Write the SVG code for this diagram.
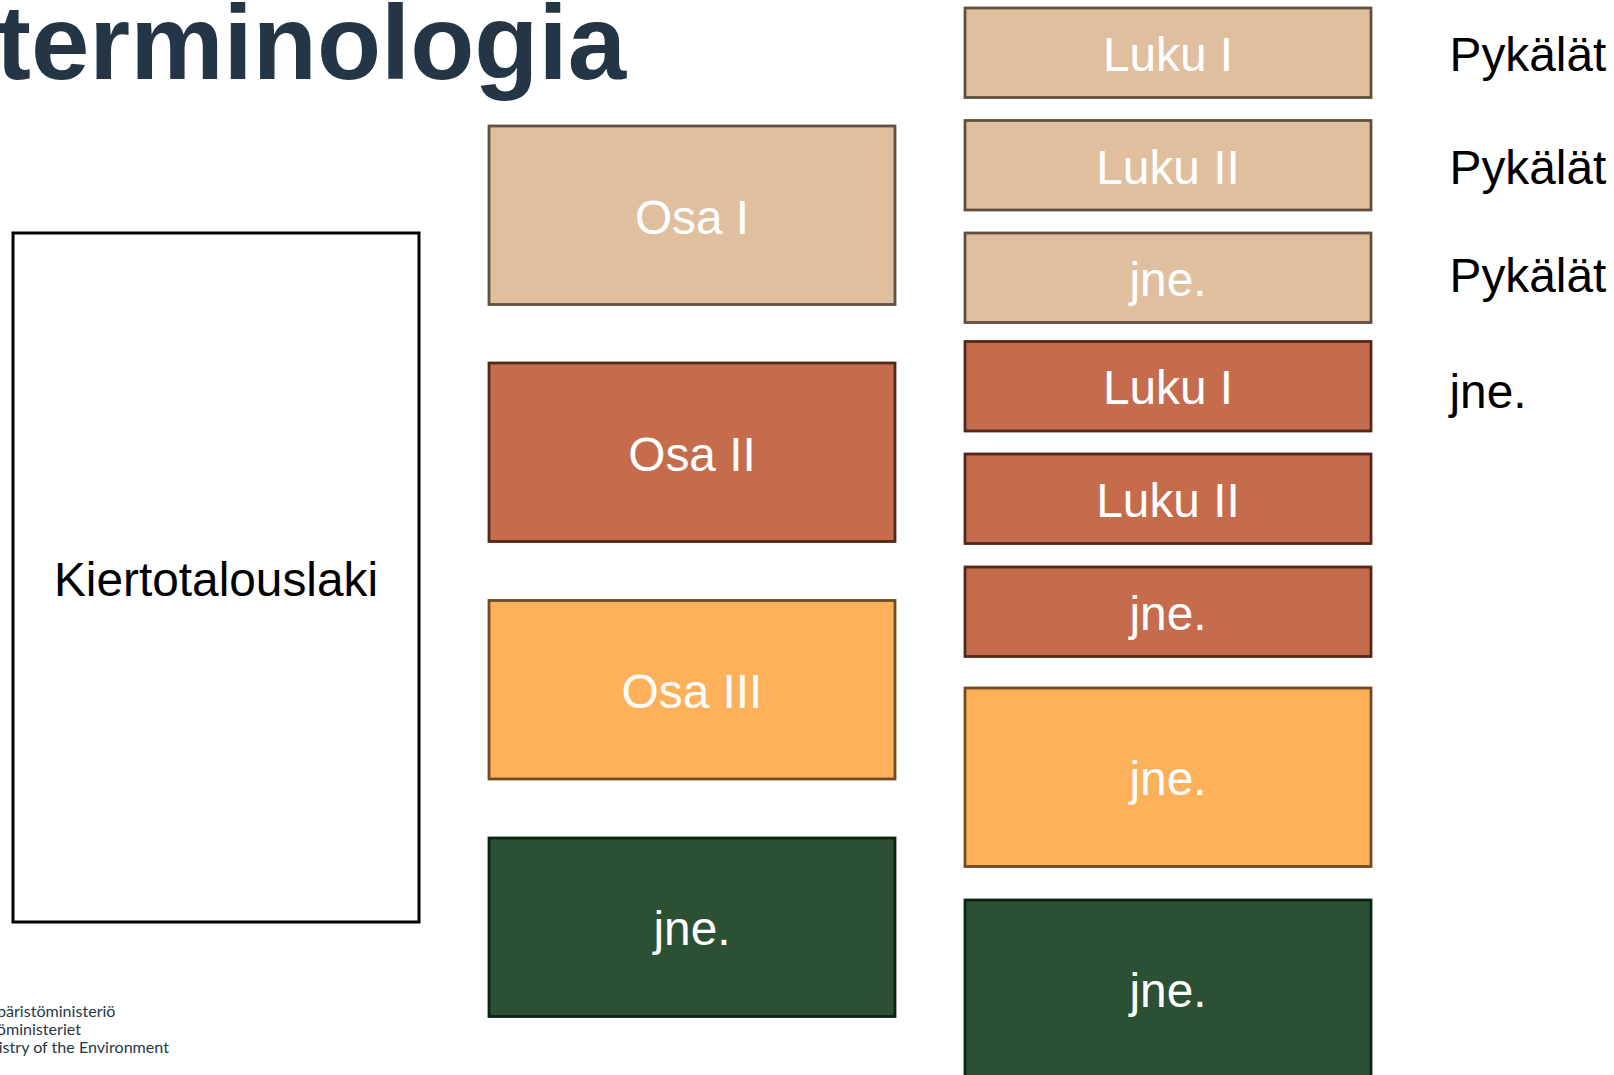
<svg xmlns="http://www.w3.org/2000/svg" width="1614" height="1075" viewBox="0 0 1614 1075">
<style>
text{font-family:"Liberation Sans",Arial,sans-serif;font-size:47.8px}
.w{fill:#fff;text-anchor:middle}
.k{fill:#000}
rect{stroke-width:2.8}
.tan{fill:#e0bf9f;stroke:#62503f}
.red{fill:#c56c4d;stroke:#532818}
.org{fill:#ffb05a;stroke:#704a20}
.grn{fill:#2c5033;stroke:#0d2216}
.foot{font-family:Lato,sans-serif;font-size:16.1px;fill:#263746;text-anchor:end}
</style>
<rect width="1614" height="1075" fill="#fff" style="stroke:none"/>
<g id="title"><text x="-4" y="79" style="font-size:105px;font-weight:bold;fill:#243546">terminologia</text></g>
<g id="laki"><rect x="13" y="233" width="406" height="689" fill="#fff" stroke="#000" style="stroke-width:3"/><text class="k" x="216" y="595.500" text-anchor="middle">Kiertotalouslaki</text></g>
<g id="osa1"><rect class="tan" x="489" y="126" width="406" height="178.500"/><text class="w" x="692" y="233.500">Osa I</text></g>
<g id="osa2"><rect class="red" x="489" y="363" width="406" height="178.500"/><text class="w" x="692" y="470.500">Osa II</text></g>
<g id="osa3"><rect class="org" x="489" y="600.500" width="406" height="178.500"/><text class="w" x="692" y="708">Osa III</text></g>
<g id="osa4"><rect class="grn" x="489" y="838" width="406" height="178.500"/><text class="w" x="692" y="945">jne.</text></g>
<g id="luku1"><rect class="tan" x="965" y="8" width="406" height="89.500"/><text class="w" x="1168" y="70.500">Luku I</text></g>
<g id="luku2"><rect class="tan" x="965" y="120.500" width="406" height="89.500"/><text class="w" x="1168" y="183.500">Luku II</text></g>
<g id="luku3"><rect class="tan" x="965" y="233" width="406" height="89.500"/><text class="w" x="1168" y="295.500">jne.</text></g>
<g id="luku4"><rect class="red" x="965" y="341.500" width="406" height="89.500"/><text class="w" x="1168" y="404">Luku I</text></g>
<g id="luku5"><rect class="red" x="965" y="454" width="406" height="89.500"/><text class="w" x="1168" y="517">Luku II</text></g>
<g id="luku6"><rect class="red" x="965" y="567" width="406" height="89.500"/><text class="w" x="1168" y="629.500">jne.</text></g>
<g id="luku7"><rect class="org" x="965" y="688" width="406" height="178.500"/><text class="w" x="1168" y="795">jne.</text></g>
<g id="luku8"><rect class="grn" x="965" y="900" width="406" height="179"/><text class="w" x="1168" y="1007">jne.</text></g>
<g id="pykalat"><text class="k" x="1449.500" y="70.500">Pykälät</text><text class="k" x="1449.500" y="183.500">Pykälät</text><text class="k" x="1449.500" y="292">Pykälät</text><text class="k" x="1449.500" y="408">jne.</text></g>
<g id="footer"><text class="foot" x="115.500" y="1017">Ympäristöministeriö</text><text class="foot" x="81" y="1035">Miljöministeriet</text><text class="foot" x="169" y="1053">Ministry of the Environment</text></g>
<g id="connectors"/>
</svg>
